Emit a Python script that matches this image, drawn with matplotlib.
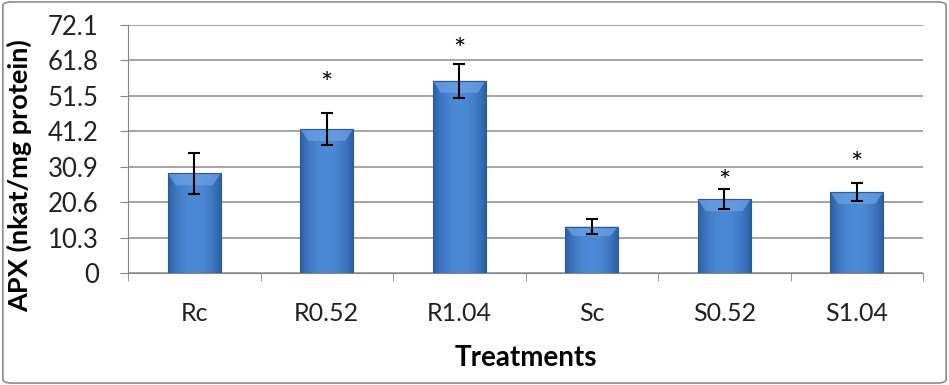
import numpy as np
import matplotlib.pyplot as plt
from matplotlib.patches import FancyBboxPatch, Polygon
from matplotlib.colors import LinearSegmentedColormap

plt.rcParams['font.family'] = ['Lato', 'DejaVu Sans']

treatments = ['Rc', 'R0.52', 'R1.04', 'Sc', 'S0.52', 'S1.04']
apx = [29.0, 41.9, 55.9, 13.5, 21.5, 23.6]
apx_err = [6.0, 4.6, 4.9, 2.2, 3.0, 2.6]
star_labels = ['', '*', '*', '', '*', '*']
star_heights = [0, 54.8, 64.6, 0, 26.3, 31.3]
yticks = [0, 10.3, 20.6, 30.9, 41.2, 51.5, 61.8, 72.1]

fig = plt.figure(figsize=(9.49, 3.85), dpi=100)
ax = fig.add_axes([0.1349, 0.2909, 0.8377, 0.6441])

x = np.arange(len(treatments))
width = 0.4

# horizontal gradient for the bars (dark edges, light middle)
grad = np.linspace(-1, 1, 200)
grad = 1 - np.abs(grad) ** 2
grad = np.vstack([grad, grad])
cmap = LinearSegmentedColormap.from_list('bar', ['#2b5fa6', '#4d8ad6'])

bars = ax.bar(x, apx, width, color='none', edgecolor='#2c5a98', linewidth=0.8, zorder=3)
for b, v in zip(bars, apx):
    x0 = b.get_x()
    w = b.get_width()
    im = ax.imshow(grad, extent=[x0, x0 + w, 0, v], cmap=cmap, aspect='auto', zorder=2)
    im.set_clip_path(b)
    # bevel on top
    d = 0.06
    h = min(3.5, v * 0.2)
    top = Polygon([[x0, v], [x0 + w, v], [x0 + w - d, v - h], [x0 + d, v - h]],
                  closed=True, facecolor='#6fa3e6', edgecolor='none', alpha=0.7, zorder=2.5)
    ax.add_patch(top)

ax.errorbar(x, apx, yerr=apx_err, fmt='none', ecolor='black', elinewidth=1.5,
            capsize=4.5, capthick=1.5, zorder=4)

for xi, s, hgt in zip(x, star_labels, star_heights):
    if s:
        ax.text(xi, hgt, s, ha='center', va='center', fontsize=21, color='black')

ax.set_xlim(-0.5, len(treatments) - 0.5)
ax.set_ylim(0, 72.1)
ax.set_yticks(yticks)
ax.set_yticklabels(['0' if t == 0 else f'{t:.1f}' for t in yticks], fontsize=18.5, color='#222222')
ax.set_xticks(x)
ax.set_xticklabels(treatments, fontsize=18, color='#222222')
ax.set_xticks(np.arange(-0.5, len(treatments)), minor=True)
ax.tick_params(axis='x', which='major', length=0, pad=21)
ax.tick_params(axis='x', which='minor', length=6, color='#868686', direction='out')
ax.tick_params(axis='y', length=6, color='#868686', pad=15)

ax.grid(axis='y', color='#8c8c8c', linewidth=1.1, zorder=0)
ax.set_axisbelow(True)
for sp in ['top', 'right']:
    ax.spines[sp].set_visible(False)
ax.spines['left'].set_color('#868686')
ax.spines['bottom'].set_color('#868686')

ax.set_ylabel('APX (nkat/mg protein)', fontsize=19.5, fontweight='bold')
ax.yaxis.set_label_coords(-0.121, 0.393)
ax.set_xlabel('Treatments', fontsize=20, fontweight='bold', labelpad=14)

border = FancyBboxPatch((0.003, 0.005), 0.994, 0.99, boxstyle='round,pad=0,rounding_size=0.01',
                        transform=fig.transFigure, facecolor='none', edgecolor='#8c8c8c', linewidth=1.2)
fig.patches.append(border)

fig.savefig('out.png', dpi=100)
